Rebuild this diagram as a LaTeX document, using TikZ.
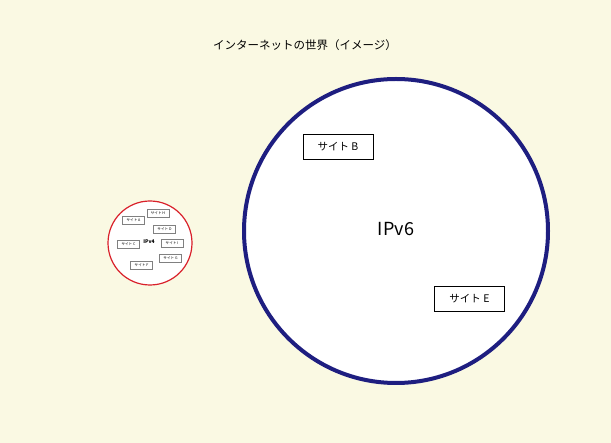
\documentclass[tikz,border=0pt]{standalone}
\usepackage{fontspec}
\newfontfamily\cjk{Noto Sans CJK JP}
\definecolor{bg}{HTML}{FAF9E3}
\definecolor{navy}{HTML}{1E1E80}
\definecolor{rd}{HTML}{D9202A}
\tikzset{site/.style={draw=black,fill=white,font=\cjk\fontsize{10.5}{10}\selectfont,minimum width=70pt,minimum height=25pt,inner sep=0pt,line width=0.8pt},
ssite/.style={draw=gray,fill=white,font=\cjk\fontsize{3.6}{3.6}\selectfont,minimum width=22pt,minimum height=7.5pt,inner sep=0pt,line width=0.4pt}}
\begin{document}
\begin{tikzpicture}[x=1pt,y=-1pt]
\fill[bg] (0,0) rectangle (611,443);
\useasboundingbox (0,0) rectangle (611,443);
\node[font=\cjk\fontsize{11.5}{12}\selectfont] (title) at (305,45) {インターネットの世界（イメージ）};
\node[draw=navy,line width=4pt,fill=white,circle,minimum size=304pt] (big) at (396,231) {};
\node[font=\cjk\fontsize{18}{18}\selectfont] (v6) at (396,229) {IPv6};
\node[site] (b) at (338,147) {サイト B};
\node[site] (e) at (469.5,298.5) {サイト E};
\node[draw=rd,line width=1.2pt,fill=white,circle,minimum size=84pt] (small) at (150,243) {};
\node[font=\cjk\fontsize{5}{5}\selectfont\bfseries] (v4) at (149,242) {IPv4};
\node[ssite] (sa) at (133.5,220) {サイト A};
\node[ssite] (sh) at (158,213) {サイト H};
\node[ssite] (sd) at (164.5,229) {サイト D};
\node[ssite] (sc) at (128.5,244) {サイト C};
\node[ssite] (si) at (172,243) {サイト I};
\node[ssite] (sg) at (170.5,258) {サイト G};
\node[ssite] (sf) at (141.5,265) {サイト F};
\end{tikzpicture}
\end{document}
